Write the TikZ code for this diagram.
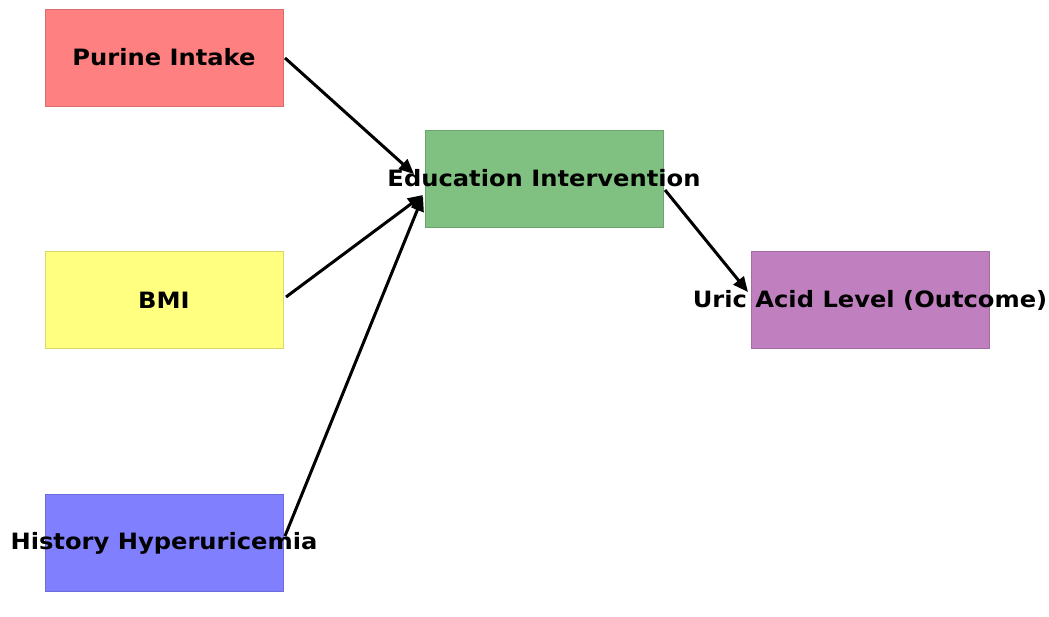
\documentclass[tikz,border=0pt]{standalone}
\usepackage{fontspec}
\setmainfont{DejaVu Sans}
\usetikzlibrary{arrows.meta}
\definecolor{cpur}{RGB}{255,128,128}
\definecolor{cbmi}{RGB}{255,255,128}
\definecolor{chis}{RGB}{128,128,255}
\definecolor{cedu}{RGB}{128,192,128}
\definecolor{curi}{RGB}{192,128,192}
\tikzset{
  box/.style={draw=#1!85!black, line width=0.7pt, fill=#1, minimum width=238pt, minimum height=97pt, inner sep=0pt, outer sep=0pt},
  lbl/.style={font=\fontsize{22.5}{26}\selectfont\bfseries, text=black, inner sep=0pt},
  arr/.style={draw=black, line width=3pt, -{Stealth[length=15pt,width=13pt,inset=0pt]}},
}
\newcommand{\wl}[1]{\scalebox{1.075}[1]{#1}}
\begin{document}
\begin{tikzpicture}[x=1pt,y=-1pt]
\useasboundingbox (0,0) rectangle (1049,617);
% boxes
\node[box=cpur] (pur) at (164,57.5) {};
\node[box=cbmi] (bmi) at (164,300) {};
\node[box=chis] (his) at (164,543) {};
\node[box=cedu] (edu) at (544,178.5) {};
\node[box=curi] (uri) at (870,300) {};
% connector ends
\coordinate (pS) at (285,58);
\coordinate (pT) at (414,174);
\coordinate (bS) at (286,297);
\coordinate (bT) at (423,195);
\coordinate (hS) at (285,536);
\coordinate (hT) at (423,196);
\coordinate (eS) at (665,190);
\coordinate (eT) at (748,292);
% connectors
\draw[arr] (pS) -- (pT);
\draw[arr] (bS) -- (bT);
\draw[arr] (hS) -- (hT);
\draw[arr] (eS) -- (eT);
% labels
\node[lbl] (tpur) at (pur.center) {\wl{Purine Intake}};
\node[lbl] (tbmi) at (bmi.center) {\wl{BMI}};
\node[lbl] (this) at (his.center) {\wl{History Hyperuricemia}};
\node[lbl] (tedu) at (edu.center) {\wl{Education Intervention}};
\node[lbl] (turi) at (uri.center) {\wl{Uric Acid Level (Outcome)}};
\end{tikzpicture}
\end{document}
